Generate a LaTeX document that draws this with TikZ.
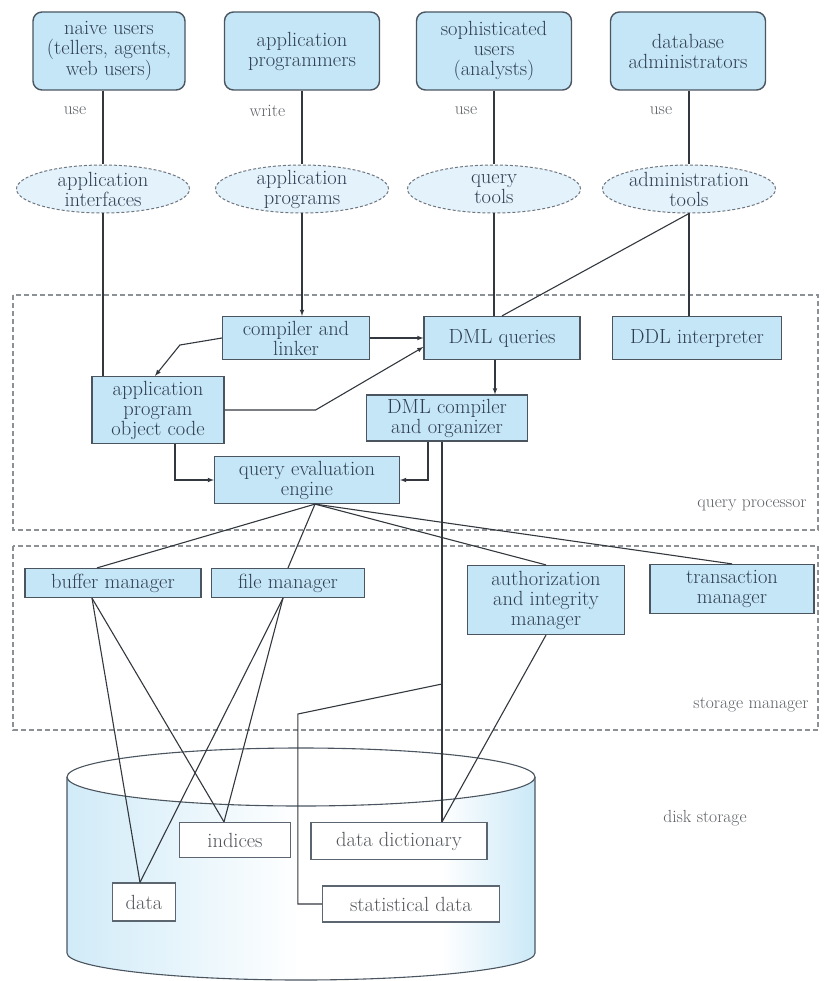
\documentclass[tikz,border=0pt]{standalone}
\usepackage{tikz}
\usetikzlibrary{shapes,arrows,calc}
\definecolor{boxblue}{HTML}{C5E6F6}
\definecolor{ellblue}{HTML}{E4F2FB}
\definecolor{rim}{HTML}{4A5560}
\definecolor{inkgray}{HTML}{33383E}
\definecolor{textdark}{HTML}{2F3F52}
\definecolor{regiongray}{HTML}{8C9196}
\pgfdeclarehorizontalshading{diskshade}{100bp}{color(0bp)=(boxblue!80); color(25bp)=(boxblue!80); color(50bp)=(white); color(65bp)=(white); color(75bp)=(boxblue!90); color(100bp)=(boxblue)}
\newcommand{\boxfont}{\fontsize{20.5}{20}\selectfont}
\newcommand{\lblfont}{\fontsize{17.5}{20}\selectfont}

\begin{document}
\begin{tikzpicture}[
    x=1pt, y=-1pt,
    user/.style={draw=rim, fill=boxblue, line width=1.4pt, rounded corners=9pt, minimum width=155pt, minimum height=78pt, align=center, inner sep=2pt, font=\boxfont, text=textdark},
    tool/.style={ellipse, draw=rim!80, densely dashed, fill=ellblue, line width=1pt, minimum width=173pt, minimum height=48pt, inner sep=-3pt, align=center, font=\boxfont, text=textdark},
    proc/.style={draw=rim, fill=boxblue, line width=1.2pt, align=center, inner sep=2pt, font=\boxfont, text=textdark},
    store/.style={draw=rim!90, fill=white, line width=1.2pt, align=center, inner sep=2pt, font=\boxfont, text=inkgray!85},
    region/.style={draw=regiongray, dash pattern=on 5pt off 3pt, line width=1.1pt},
    link/.style={draw=inkgray, line width=1.1pt},
    arrow/.style={link, ->, >=latex},
    lbl/.style={font=\lblfont, text=inkgray!80}
]
    \useasboundingbox (0,0) rectangle (826,981);

    % the two dashed regions
    \draw[region] (13,295) rectangle (818,530);
    \draw[region] (13,546) rectangle (818,730);
    \node[lbl, anchor=east] (qplabel) at (810,505) {query processor};
    \node[lbl, anchor=east] (smlabel) at (812,705) {storage manager};
    \node[lbl] (dslabel) at (705,818) {disk storage};

    % disk cylinder
    \shade[shading=diskshade] (67,777) -- (67,953) arc[start angle=180, end angle=360, x radius=234pt, y radius=27pt] -- (535,777) -- cycle;
    \draw[rim, line width=1.1pt] (67,777) -- (67,953) arc[start angle=180, end angle=360, x radius=234pt, y radius=27pt] -- (535,777);
    \draw[rim, fill=white, line width=1.1pt] (301,777) ellipse [x radius=234pt, y radius=29pt];

    % users
    \node[user, minimum width=152pt] (naive) at (109,51) {naive users\\(tellers, agents,\\web users)};
    \node[user] (progr) at (302,51) {application\\programmers};
    \node[user] (soph) at (494,51) {sophisticated\\users\\(analysts)};
    \node[user] (dba) at (688,51) {database\\administrators};

    \node[tool] (ifaces) at (103,189) {application\\interfaces};
    \node[tool] (progs) at (302,189) {application\\programs};
    \node[tool] (qtools) at (494,189) {query\\tools};
    \node[tool] (atools) at (689,189) {administration\\tools};

    % query processor
    \node[proc, minimum width=147pt, minimum height=43pt] (compiler) at (296,338) {compiler and\\linker};
    \node[proc, minimum width=156pt, minimum height=43pt] (dmlq) at (502,338) {DML queries};
    \node[proc, minimum width=169pt, minimum height=43pt] (ddl) at (697,338) {DDL interpreter};
    \node[proc, minimum width=132pt, minimum height=67pt] (objcode) at (158,410) {application\\program\\object code};
    \node[proc, minimum width=161pt, minimum height=46pt] (dmlc) at (447,418) {DML compiler\\and organizer};
    \node[proc, minimum width=185pt, minimum height=47pt] (qee) at (307,480) {query evaluation\\engine};

    % storage manager
    \node[proc, minimum width=176pt, minimum height=29pt] (buffer) at (113,583) {buffer manager};
    \node[proc, minimum width=153pt, minimum height=29pt] (filem) at (288,583) {file manager};
    \node[proc, minimum width=157pt, minimum height=69pt] (authz) at (546,600) {authorization\\and integrity\\manager};
    \node[proc, minimum width=164pt, minimum height=49pt] (trans) at (732,589) {transaction\\manager};

    % disk storage
    \node[store, minimum width=111pt, minimum height=35pt] (indices) at (235,840) {indices};
    \node[store, minimum width=176pt, minimum height=37pt] (dict) at (399,841) {data dictionary};
    \node[store, minimum width=63pt, minimum height=38pt] (data) at (144,902) {data};
    \node[store, minimum width=177pt, minimum height=36pt] (stats) at (411,904) {statistical data};

    \coordinate (hub) at ([xshift=8pt]qee.south);
    \coordinate (tap) at ([xshift=-5pt]dmlc.south |- 0,684);

    \draw[link] (naive.south -| ifaces.north) -- (ifaces.north) node[pos=0.27, left=13pt, lbl] {use};
    \draw[link] (progr.south -| progs.north) -- (progs.north) node[pos=0.27, left=13pt, lbl] {write};
    \draw[link] (soph.south -| qtools.north) -- (qtools.north) node[pos=0.27, left=13pt, lbl] {use};
    \draw[link] (dba.south -| atools.north) -- (atools.north) node[pos=0.27, left=13pt, lbl] {use};

    \draw[link] (ifaces.south) -- (ifaces.south |- objcode.north);
    \draw[arrow] (progs.south) -- (progs.south |- compiler.north);
    \draw[link] (qtools.south) -- (qtools.south |- dmlq.north);
    \draw[link] (atools.south) -- (dmlq.north);
    \draw[link] (atools.south) -- (atools.south |- ddl.north);
    \draw[arrow] (compiler.east) -- (dmlq.west);
    \draw[arrow] (compiler.west) -- ++(-42,7) -- ([xshift=-3pt]objcode.north);
    \draw[arrow] (objcode.east) -- ++(91,0) -- ([yshift=-9pt]dmlq.west);
    \draw[arrow] ([xshift=-7pt]dmlq.south) -- ([xshift=-7pt]dmlq.south |- dmlc.north);
    \draw[arrow] ([xshift=17pt]objcode.south) |- (qee.west);
    \draw[arrow] ([xshift=-19pt]dmlc.south) |- (qee.east);

    \draw[link] (hub) -- ([xshift=-16pt]buffer.north);
    \draw[link] (hub) -- (filem.north);
    \draw[link] (hub) -- (authz.north);
    \draw[link] (hub) -- (trans.north);

    \draw[link] ([xshift=-5pt]dmlc.south) -- ([xshift=-5pt]dmlc.south |- dict.north);
    \draw[link] (stats.west) -- ++(-24,0) -- ++(0,-190) -- (tap);
    \draw[link] (authz.south) -- (tap |- dict.north);

    \draw[link] ([xshift=-21pt]buffer.south) -- ([xshift=-4pt]data.north);
    \draw[link] ([xshift=-21pt]buffer.south) -- ([xshift=-11pt]indices.north);
    \draw[link] ([xshift=-5pt]filem.south) -- ([xshift=-4pt]data.north);
    \draw[link] ([xshift=-5pt]filem.south) -- ([xshift=-11pt]indices.north);
\end{tikzpicture}
\end{document}
